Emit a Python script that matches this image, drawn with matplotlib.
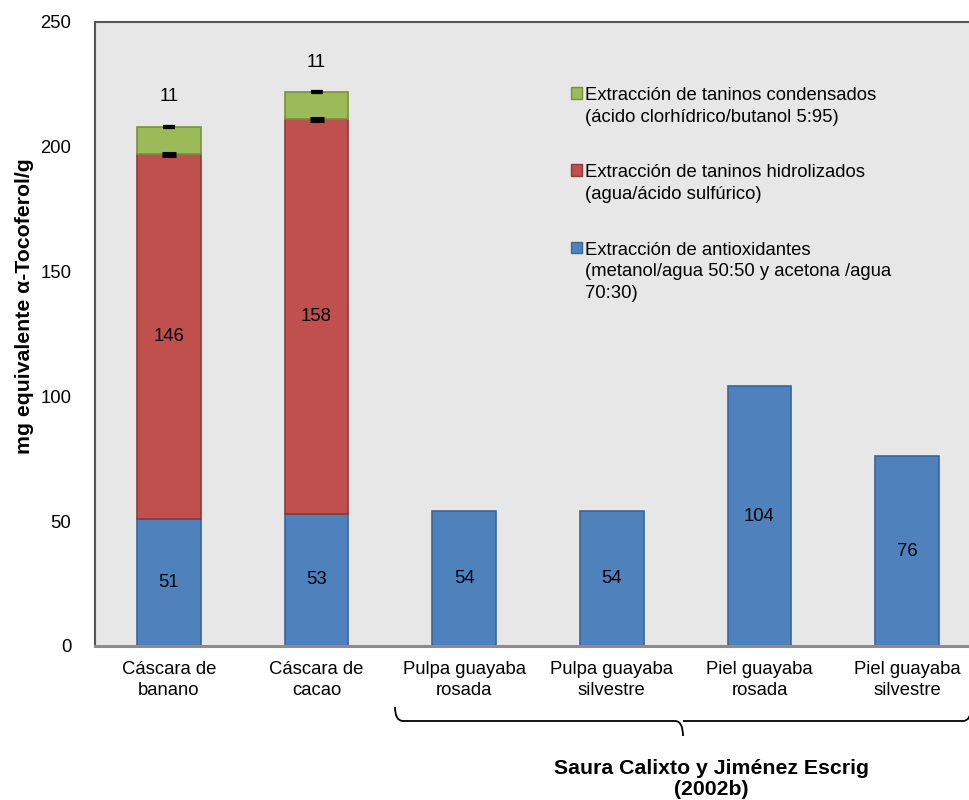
import matplotlib
matplotlib.use("Agg")
import matplotlib.pyplot as plt
from matplotlib.patches import Patch
from matplotlib.path import Path
from matplotlib.patches import PathPatch
import numpy as np

plt.rcParams['font.family'] = ['Liberation Sans', 'DejaVu Sans']

# Data (mg equivalente α-Tocoferol/g)
categorias = ["Cáscara de\nbanano", "Cáscara de\ncacao", "Pulpa guayaba\nrosada",
              "Pulpa guayaba\nsilvestre", "Piel guayaba\nrosada", "Piel guayaba\nsilvestre"]
antioxidantes = [51, 53, 54, 54, 104, 76]
taninos_hidrolizados = [146, 158, 0, 0, 0, 0]
taninos_condensados = [11, 11, 0, 0, 0, 0]
err_hidrolizados = [0.5, 0.5]
err_condensados = [0.3, 0.3]
yticks = [0, 50, 100, 150, 200, 250]

leyenda = ["Extracción de taninos condensados\n(ácido clorhídrico/butanol 5:95)",
           "Extracción de taninos hidrolizados\n(agua/ácido sulfúrico)",
           "Extracción de antioxidantes\n(metanol/agua 50:50 y acetona /agua\n70:30)"]
fuente = "Saura Calixto y Jiménez Escrig\n(2002b)"

c_azul, e_azul = "#4f81bd", "#3a6698"
c_rojo, e_rojo = "#c0504d", "#8e3a38"
c_verde, e_verde = "#9bbb59", "#76923c"

W, H = 969, 800
fig = plt.figure(figsize=(W / 100, H / 100), dpi=100)
ax = fig.add_axes([95 / W, 1 - 646 / H, (981 - 95) / W, (646 - 22) / H])
ax.set_facecolor("#e7e7e7")

x = np.arange(len(categorias))
bw = 0.43
fs = 13.3
fsb = 15.3

b1 = ax.bar(x, antioxidantes, bw, color=c_azul, edgecolor=e_azul, linewidth=1.2, zorder=2)
base2 = np.array(antioxidantes)
n = 2
b2 = ax.bar(x[:n], taninos_hidrolizados[:n], bw, bottom=base2[:n], color=c_rojo,
            edgecolor=e_rojo, linewidth=1.2, zorder=2)
base3 = base2[:n] + np.array(taninos_hidrolizados[:n])
b3 = ax.bar(x[:n], taninos_condensados[:n], bw, bottom=base3, color=c_verde,
            edgecolor=e_verde, linewidth=1.2, zorder=2)
top3 = base3 + np.array(taninos_condensados[:n])

# small error caps at segment tops
ax.errorbar(x[:n], base3, yerr=err_hidrolizados, fmt="none", ecolor="black",
            elinewidth=1.5, capsize=4.7, capthick=2.2, zorder=3)
ax.errorbar(x[:n], top3, yerr=err_condensados, fmt="none", ecolor="black",
            elinewidth=1.2, capsize=4.0, capthick=1.6, zorder=3)

# value labels
for xi, v in zip(x, antioxidantes):
    ax.text(xi, v / 2, f"{v}", ha="center", va="center", fontsize=fs, zorder=4)
for xi, b, v in zip(x[:n], base2[:n], taninos_hidrolizados[:n]):
    ax.text(xi, b + v / 2, f"{v}", ha="center", va="center", fontsize=fs, zorder=4)
for xi, t, v in zip(x[:n], top3, taninos_condensados[:n]):
    ax.annotate(f"{v}", (xi, t), xytext=(0, 21.5), textcoords="offset points",
                ha="center", va="center", fontsize=fs, zorder=4)

ax.set_xlim(-0.5, len(categorias) - 0.5)
ax.set_ylim(0, 250)
ax.set_yticks(yticks)
ax.set_xticks(x)
ax.set_xticklabels(categorias, fontsize=fs, linespacing=1.35)
ax.tick_params(axis="y", length=0, pad=17, labelsize=fs)
ax.tick_params(axis="x", length=0, pad=10.5)
ax.set_ylabel("mg equivalente α-Tocoferol/g", fontsize=fsb, fontweight="bold")
ax.yaxis.set_label_coords(25 / W, 1 - 306 / H, transform=fig.transFigure)
ax.yaxis.label.set_va("center")

for s in ["top", "left"]:
    ax.spines[s].set_color("#555555")
    ax.spines[s].set_linewidth(1.5)
ax.spines["bottom"].set_color("#8c8c8c")
ax.spines["bottom"].set_linewidth(2.2)
ax.spines["right"].set_visible(False)

# legend
handles = [Patch(facecolor=c_verde, edgecolor=e_verde),
           Patch(facecolor=c_rojo, edgecolor=e_rojo),
           Patch(facecolor=c_azul, edgecolor=e_azul)]
leg = ax.legend(handles, leyenda, loc="upper left",
                bbox_to_anchor=(571 / W, 1 - 87 / H), bbox_transform=fig.transFigure,
                frameon=False, fontsize=fs, handlelength=0.6, handleheight=0.6,
                handletextpad=0.15, labelspacing=2.1, borderpad=0, borderaxespad=0)
for col in leg._legend_handle_box.get_children():
    for item in col.get_children():
        item.align = "top"
for t in leg.get_texts():
    t.set_linespacing(1.35)

# bracket under the guava samples
def px(xp, yp):
    return (xp / W, 1 - yp / H)

xl, xc, xr, yb, yt, yd = 395, 683, 971, 721, 707, 736
r = 8
verts = [px(xl, yt), px(xl, yb), px(xl + r, yb),
         px(xc - r, yb), px(xc, yb), px(xc, yd),
         px(xc, yb), px(xc + r, yb),
         px(xr - r, yb), px(xr, yb), px(xr, yt)]
codes = [Path.MOVETO, Path.CURVE3, Path.CURVE3,
         Path.LINETO, Path.CURVE3, Path.CURVE3,
         Path.MOVETO, Path.LINETO,
         Path.LINETO, Path.CURVE3, Path.CURVE3]
fig.add_artist(PathPatch(Path(verts, codes), transform=fig.transFigure,
                         fill=False, edgecolor="black", linewidth=1.3))
fig.text(711 / W, 1 - 779 / H, fuente, ha="center", va="center", fontsize=fsb,
         fontweight="bold", linespacing=1.1)

fig.savefig("out.png", dpi=100, facecolor="white")
